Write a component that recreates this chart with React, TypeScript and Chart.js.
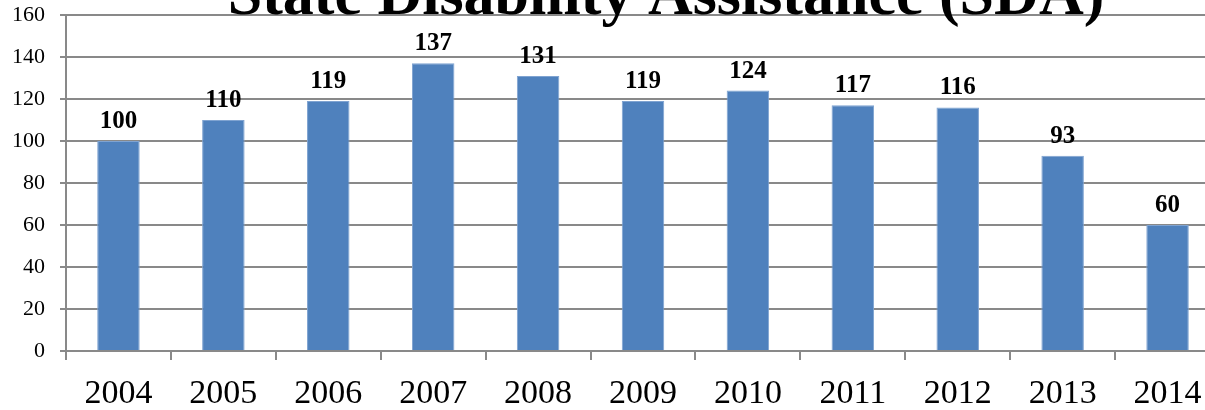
import React, { useEffect, useRef } from "react";
import { Chart, registerables } from "chart.js";

Chart.register(...registerables);

const TITLE = "State Disability Assistance (SDA)";
const YEARS = ["2004", "2005", "2006", "2007", "2008", "2009", "2010", "2011", "2012", "2013", "2014"];
const VALUES = [100, 110, 119, 137, 131, 119, 124, 117, 116, 93, 60];
const Y_MIN = 0;
const Y_MAX = 160;
const Y_STEP = 20;

const SERIF = "'Liberation Serif', 'Times New Roman', serif";
const GRID = "#898989";
const BAR = "#4f81bd";

const valueLabels = {
  id: "valueLabels",
  afterDatasetsDraw(chart: any) {
    const ctx = chart.ctx;
    const meta = chart.getDatasetMeta(0);
    ctx.save();
    ctx.font = `bold 25px ${SERIF}`;
    ctx.fillStyle = "#000";
    ctx.textAlign = "center";
    ctx.textBaseline = "alphabetic";
    meta.data.forEach((bar: any, i: number) => {
      ctx.fillText(String(VALUES[i]), bar.x, bar.y - 13);
    });
    ctx.restore();
  },
};

const clippedTitle = {
  id: "clippedTitle",
  afterDraw(chart: any) {
    const ctx = chart.ctx;
    ctx.save();
    ctx.font = `bold 62px ${SERIF}`;
    ctx.fillStyle = "#000";
    ctx.textAlign = "center";
    ctx.textBaseline = "alphabetic";
    ctx.fillText(TITLE, 666, 14);
    ctx.restore();
  },
};

export default function App() {
  const ref = useRef<HTMLCanvasElement | null>(null);

  useEffect(() => {
    if (!ref.current) return;
    const chart = new Chart(ref.current, {
      type: "bar",
      data: {
        labels: YEARS,
        datasets: [
          {
            data: VALUES,
            backgroundColor: BAR,
            borderColor: "#7fa3d1",
            borderWidth: 1,
            categoryPercentage: 1,
            barPercentage: 0.405,
          },
        ],
      },
      options: {
        animation: false,
        responsive: false,
        maintainAspectRatio: false,
        devicePixelRatio: 1,
        layout: { padding: { top: 15, right: 6, left: 0, bottom: 0 } },
        plugins: {
          legend: { display: false },
          title: { display: false },
          tooltip: { enabled: false },
        },
        scales: {
          x: {
            offset: true,
            grid: {
              offset: true,
              drawOnChartArea: false,
              drawTicks: true,
              tickLength: 9,
              color: GRID,
              lineWidth: 2,
            },
            border: { color: GRID, width: 2 },
            ticks: {
              color: "#000",
              font: { family: SERIF, size: 34 },
              padding: 14,
              maxRotation: 0,
              autoSkip: false,
            },
            afterFit(scale: any) {
              scale.height = 59;
              scale.paddingLeft = 0;
              scale.paddingRight = 0;
            },
          },
          y: {
            min: Y_MIN,
            max: Y_MAX,
            grid: {
              color: GRID,
              lineWidth: 2,
              tickLength: 6,
              drawTicks: true,
            },
            border: { color: GRID, width: 2 },
            ticks: {
              stepSize: Y_STEP,
              color: "#000",
              font: { family: SERIF, size: 22 },
              padding: 15,
            },
            afterFit(scale: any) {
              scale.width = 66;
              scale.paddingTop = 0;
              scale.paddingBottom = 0;
            },
          },
        },
      },
      plugins: [valueLabels, clippedTitle],
    });
    return () => chart.destroy();
  }, []);

  return (
    <div style={{ position: "fixed", left: 0, top: 0, right: 0, bottom: 0, overflow: "hidden", background: "#fff" }}>
      <canvas ref={ref} width={1226} height={410} style={{ display: "block", width: 1226, height: 410 }} />
    </div>
  );
}
